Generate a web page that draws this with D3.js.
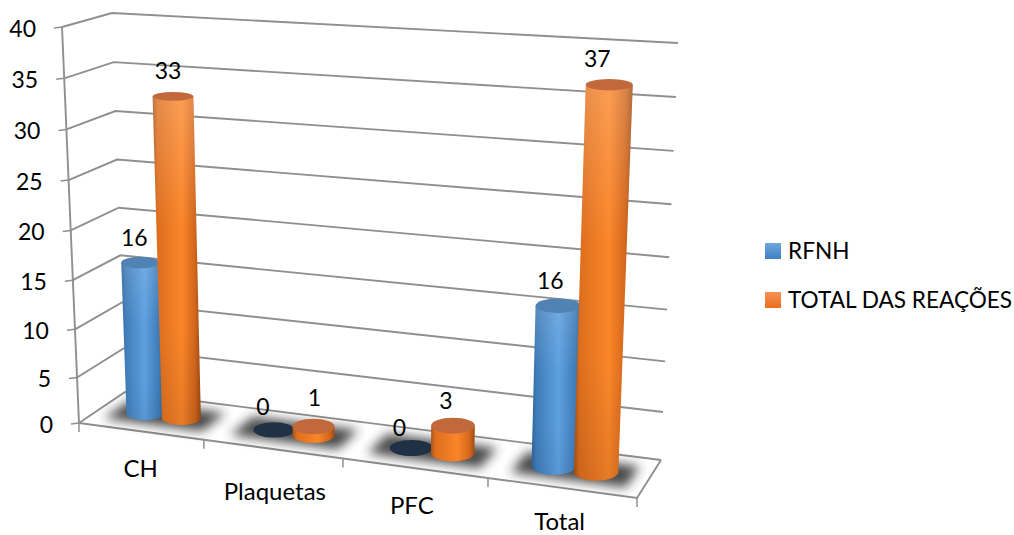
<!DOCTYPE html>
<html>
<head>
<meta charset="utf-8">
<script src="https://cdn.jsdelivr.net/npm/d3@7/dist/d3.min.js"></script>
<style>
html,body{margin:0;padding:0;background:#fff;}
svg{display:block;}
text{font-family:Lato,"Open Sans",sans-serif;fill:#000;}
</style>
</head>
<body>
<svg id="chart" width="1014" height="535"></svg>
<script>
// Chart data
const categories = ["CH", "Plaquetas", "PFC", "Total"];
const seriesNames = ["RFNH", "TOTAL DAS REAÇÕES"];
const rfnh = [16, 0, 0, 16];
const totalReacoes = [33, 1, 3, 37];
const yTicks = [0, 5, 10, 15, 20, 25, 30, 35, 40];

const seriesValues = [rfnh, totalReacoes];

// Box corners of the 3D plot: [x, y] at floor level and at the top of the value axis
const frontLeft  = {floor: [79, 423],  top: [62, 27]};
const backLeft   = {floor: [125, 392], top: [112, 13]};
const backRight  = {floor: [661, 460], top: [678, 43]};
const frontRight = {floor: [637, 498], top: [655, 68]};

// Scales: perspective makes far categories narrower and high values stretch a little
const xBand = d3.scaleBand().domain(categories).range([0.02, 3.98]);
const xSeries = d3.scaleBand().domain(seriesNames).range([0.215, 0.795]);
const xPersp = d3.scalePow().exponent(1.08).domain([0, 4]).range([0, 1]);
const yPersp = d3.scalePow().exponent(1.04).domain([0, 40]).range([0, 1]);
const mix = (a, b, t) => [a[0] + (b[0] - a[0]) * t, a[1] + (b[1] - a[1]) * t];

// Map (position along categories, depth 0=front..1=back, value) to the screen
function project(d, depth, value) {
  const u = xPersp(d), t = yPersp(value);
  const at = level => mix(
    mix(frontLeft[level], frontRight[level], u),
    mix(backLeft[level], backRight[level], u),
    depth);
  return mix(at("floor"), at("top"), t);
}

const svg = d3.select("#chart");
const defs = svg.append("defs");
const line = d3.line();

function gradient(id, vertical, stops) {
  const g = defs.append("linearGradient").attr("id", id)
    .attr("x1", 0).attr("y1", 0)
    .attr("x2", vertical ? 0 : 1).attr("y2", vertical ? 1 : 0);
  stops.forEach(s => g.append("stop").attr("offset", s[0]).attr("stop-color", s[1]).attr("stop-opacity", s[2] === undefined ? 1 : s[2]));
}
gradient("body0", false, [[0, "#2f6498"], [0.1, "#3f7cb8"], [0.55, "#5da0e0"], [0.88, "#3f7cb8"], [1, "#31649a"]]);
gradient("body1", false, [[0, "#a85216"], [0.1, "#dd6e1e"], [0.6, "#fb8629"], [0.88, "#d2661c"], [1, "#9c4b12"]]);
gradient("sheen", true, [[0, "#fff", 0.2], [0.4, "#fff", 0], [0.7, "#000", 0], [1, "#000", 0.08]]);
gradient("swatch0", true, [[0, "#6fa6de"], [1, "#3e82c2"]]);
gradient("swatch1", true, [[0, "#f69157"], [1, "#ec6f1e"]]);
defs.append("filter").attr("id", "soft").attr("x", "-30%").attr("y", "-70%").attr("width", "160%").attr("height", "240%")
  .append("feGaussianBlur").attr("stdDeviation", 5.5);

// Walls and floor wireframe
const frame = svg.append("g").attr("fill", "none").attr("stroke", "#8f8f8f").attr("stroke-width", 1.9);
yTicks.forEach(v => {
  frame.append("path").attr("d", line([project(0, 0, v), project(0, 1, v), project(4, 1, v)]));
});
frame.append("path").attr("d", line([project(0, 0, 0), project(0, 0, 40)]));
frame.append("path").attr("d", line([project(0, 0, 0), project(4, 0, 0), project(4, 1, 0)]));

// Axis tick marks
const ticks = svg.append("g").attr("stroke", "#8f8f8f").attr("stroke-width", 1.5);
yTicks.forEach(v => {
  const p = project(0, 0, v);
  ticks.append("line").attr("x1", p[0] - 8).attr("y1", p[1] + 1).attr("x2", p[0]).attr("y2", p[1]);
});
d3.range(0, 5).forEach(i => {
  const p = project(i, 0, 0);
  ticks.append("line").attr("x1", p[0]).attr("y1", p[1]).attr("x2", p[0]).attr("y2", p[1] + 9);
});

// Value axis labels
svg.append("g").selectAll("text").data(yTicks).join("text")
  .attr("x", v => project(0, 0, v)[0] - 26)
  .attr("y", v => project(0, 0, v)[1] + 10)
  .attr("text-anchor", "end").attr("font-size", 23)
  .text(v => v);

// Category labels below the front edge
const catLift = [46, 51, 46, 42];
const catShift = [0, 1, -3, -1];
svg.append("g").selectAll("text").data(categories).join("text")
  .attr("x", (c, i) => project(xBand(c) + 0.5, 0, 0)[0] + catShift[i])
  .attr("y", (c, i) => project(xBand(c) + 0.5, 0, 0)[1] + catLift[i])
  .attr("text-anchor", "middle").attr("font-size", 24)
  .text(c => c);

// Soft shadows cast on the floor by each pair of columns
svg.append("g").selectAll("path").data(categories).join("path")
  .attr("d", c => {
    const d = xBand(c);
    return line([project(d + 0.12, 0.22, 0), project(d + 0.9, 0.22, 0), project(d + 0.9, 0.78, 0), project(d + 0.12, 0.78, 0)]) + "Z";
  })
  .attr("fill", "#2a2a2a").attr("opacity", 0.85).attr("filter", "url(#soft)");

// Columns, drawn left to right so neighbours overlap correctly
const radius = 0.152, tube = 0.23;
const bars = categories.flatMap((c, i) => seriesNames.map((s, k) => ({c, s, k, value: seriesValues[k][i]})));
const barG = svg.append("g");
bars.forEach(b => {
  const d = xBand(b.c) + xSeries(b.s) + xSeries.bandwidth() / 2;
  const ell = v => {
    const p = project(d, 0.5, v);
    return {
      x: p[0], y: p[1],
      rx: (project(d + radius, 0.5, v)[0] - project(d - radius, 0.5, v)[0]) / 2,
      ry: Math.abs(project(d, 0.5 - tube, v)[1] - project(d, 0.5 + tube, v)[1]) / 2
    };
  };
  const base = ell(0), top = ell(b.value);
  if (b.value === 0) {
    barG.append("ellipse").attr("cx", base.x).attr("cy", base.y).attr("rx", base.rx).attr("ry", base.ry).attr("fill", "#203145");
    return;
  }
  const side = `M${top.x - top.rx},${top.y}L${base.x - base.rx},${base.y}A${base.rx},${base.ry} 0 0 0 ${base.x + base.rx},${base.y}L${top.x + top.rx},${top.y}Z`;
  barG.append("path").attr("d", side).attr("fill", `url(#body${b.k})`);
  barG.append("path").attr("d", side).attr("fill", "url(#sheen)").attr("opacity", Math.min(1, b.value / 25));
  barG.append("ellipse").attr("cx", top.x).attr("cy", top.y).attr("rx", top.rx).attr("ry", top.ry)
    .attr("fill", b.k === 0 ? "#5082b3" : "#c2693c");
});

// Value labels above each column
const labelShift = [[[-6, 0], [-5, 0]], [[-11, 2], [1, -3]], [[-12, 5], [-7, 0]], [[-8, 0], [-12, -1]]];
const labelG = svg.append("g");
bars.forEach(b => {
  const i = categories.indexOf(b.c);
  const d = xBand(b.c) + xSeries(b.s) + xSeries.bandwidth() / 2;
  const p = project(d, 0.5, b.value), sh = labelShift[i][b.k];
  labelG.append("text").attr("x", p[0] + sh[0]).attr("y", p[1] - 17 + sh[1])
    .attr("text-anchor", "middle").attr("font-size", 23).text(b.value);
});

// Legend
const legendY = d3.scalePoint().domain(seriesNames).range([251, 300]);
const legend = svg.append("g").selectAll("g").data(seriesNames).join("g");
legend.append("rect").attr("x", 765).attr("y", s => legendY(s) - 8).attr("width", 16).attr("height", 16)
  .attr("fill", (s, i) => `url(#swatch${i})`);
legend.append("text").attr("x", 788).attr("y", s => legendY(s) + 7.5).attr("font-size", 22.6).text(s => s);
</script>
</body>
</html>
